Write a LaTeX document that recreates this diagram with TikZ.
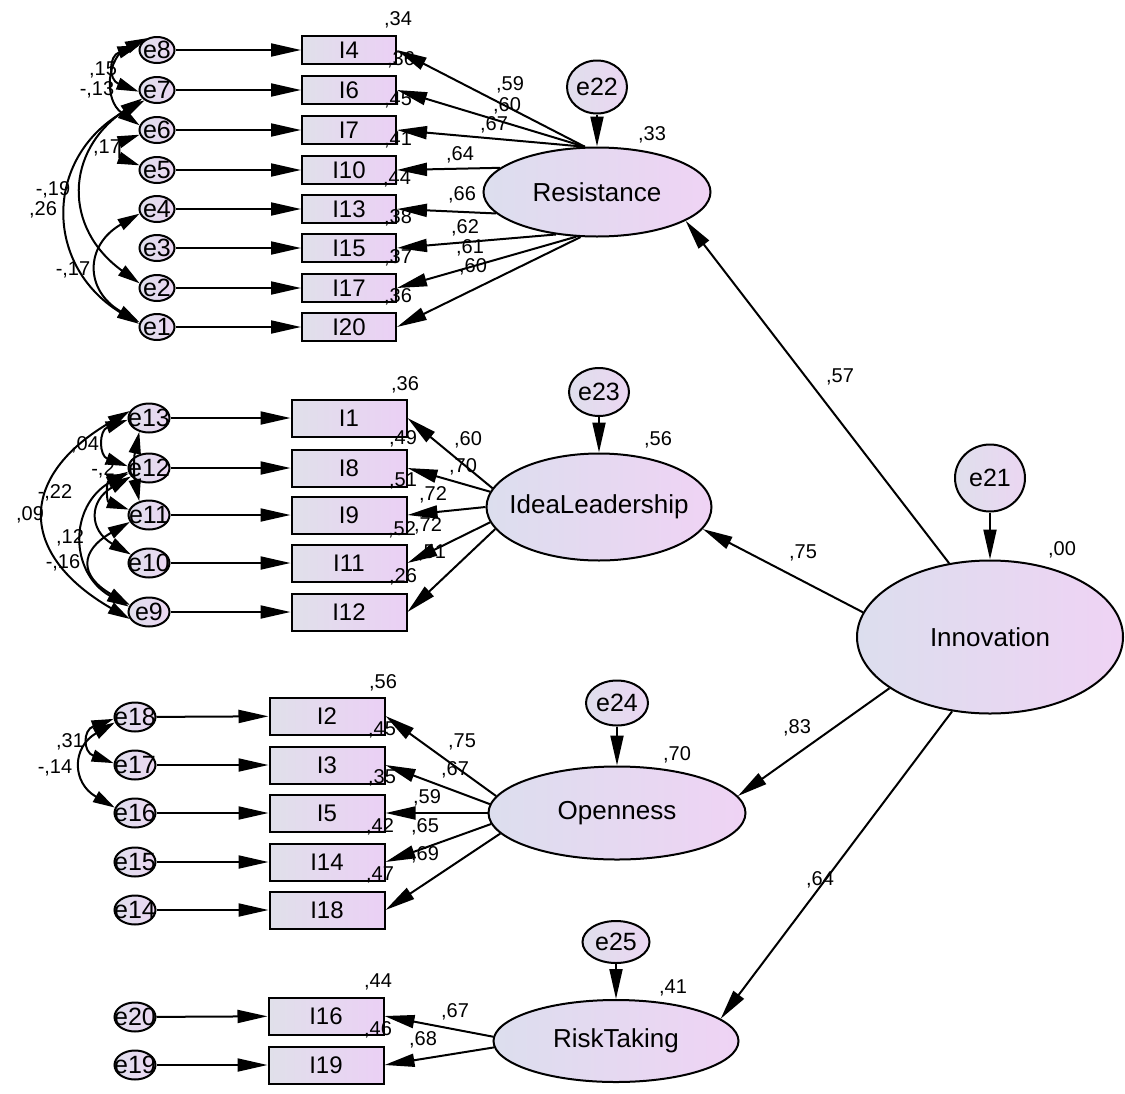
\documentclass[tikz,border=0pt]{standalone}
\usepackage{fontspec}
\setmainfont{Liberation Sans}
\usetikzlibrary{arrows.meta,shapes.geometric}

\definecolor{latL}{HTML}{DCDEEE}
\definecolor{latR}{HTML}{EFD3F4}
\definecolor{boxL}{HTML}{E0E0EA}
\definecolor{boxR}{HTML}{EBD0F5}
\definecolor{errL}{HTML}{DFDFEC}
\definecolor{errR}{HTML}{EBD6F2}

\begin{document}
\begin{tikzpicture}[x=1pt,y=-1pt,
	latent/.style={ellipse,draw,line width=2pt,left color=latL,right color=latR,inner xsep=-30pt,inner ysep=0pt,font=\fontsize{26}{26}\selectfont},
	indic/.style={rectangle,draw,line width=2pt,left color=boxL,right color=boxR,inner sep=1pt,font=\fontsize{24}{24}\selectfont},
	itemS/.style={indic,minimum width=94pt,minimum height=28pt},
	itemL/.style={indic,minimum width=115pt,minimum height=37pt},
	err/.style={ellipse,draw,line width=2pt,left color=errL,right color=errR,inner xsep=-10pt,inner ysep=-4pt,font=\fontsize{25}{25}\selectfont},
	errA/.style={err,minimum width=35pt,minimum height=26pt},
	errB/.style={err,minimum width=41pt,minimum height=29pt},
	regr/.style={-{Triangle[length=30pt,width=13pt]},line width=2pt},
	cov/.style={{Triangle[length=22pt,width=12pt]}-{Triangle[length=22pt,width=12pt]},line width=2pt},
	est/.style={font=\fontsize{20}{20}\selectfont,inner sep=0pt}]

	\useasboundingbox (0,0) rectangle (1125,1093);

	% latent variables
	\node[latent,minimum width=227pt,minimum height=89pt] (res) at (597,192) {Resistance};
	\node[latent,minimum width=225pt,minimum height=107pt] (idea) at (599,507) {IdeaLeadership};
	\node[latent,minimum width=257pt,minimum height=93pt] (open) at (617,813) {Openness};
	\node[latent,minimum width=245pt,minimum height=82pt] (risk) at (616,1041) {RiskTaking};
	\node[latent,minimum width=266pt,minimum height=153pt] (inno) at (990,637) {Innovation};

	% disturbances
	\node[err,minimum width=60pt,minimum height=53pt] (e22) at (597,87) {e22};
	\node[err,minimum width=60pt,minimum height=48pt] (e23) at (599,392) {e23};
	\node[err,minimum width=62pt,minimum height=45pt] (e24) at (617,703) {e24};
	\node[err,minimum width=67pt,minimum height=42pt] (e25) at (616,942) {e25};
	\node[err,minimum width=70pt,minimum height=67pt] (e21) at (990,478) {e21};

	% resistance items
	\node[itemS] (I4) at (349,50) {I4};
	\node[itemS] (I6) at (349,90) {I6};
	\node[itemS] (I7) at (349,130) {I7};
	\node[itemS] (I10) at (349,170) {I10};
	\node[itemS] (I13) at (349,209) {I13};
	\node[itemS] (I15) at (349,248) {I15};
	\node[itemS] (I17) at (349,288) {I17};
	\node[itemS] (I20) at (349,327) {I20};

	\node[errA] (e8) at (157,50) {e8};
	\node[errA] (e7) at (157,90) {e7};
	\node[errA] (e6) at (157,130) {e6};
	\node[errA] (e5) at (157,170) {e5};
	\node[errA] (e4) at (157,209) {e4};
	\node[errA] (e3) at (157,248) {e3};
	\node[errA] (e2) at (157,288) {e2};
	\node[errA] (e1) at (157,327) {e1};

	% idea leadership items
	\node[itemL] (I1) at (349,418) {I1};
	\node[itemL] (I8) at (349,468) {I8};
	\node[itemL] (I9) at (349,515) {I9};
	\node[itemL] (I11) at (349,563) {I11};
	\node[itemL] (I12) at (349,612) {I12};

	\node[errB] (e13) at (149,418) {e13};
	\node[errB] (e12) at (149,468) {e12};
	\node[errB] (e11) at (149,515) {e11};
	\node[errB] (e10) at (149,563) {e10};
	\node[errB] (e9) at (149,612) {e9};

	% openness items
	\node[itemL] (I2) at (327,716) {I2};
	\node[itemL] (I3) at (327,765) {I3};
	\node[itemL] (I5) at (327,813) {I5};
	\node[itemL] (I14) at (327,862) {I14};
	\node[itemL] (I18) at (327,910) {I18};

	\node[errB] (e18) at (135,717) {e18};
	\node[errB] (e17) at (135,765) {e17};
	\node[errB] (e16) at (135,813) {e16};
	\node[errB] (e15) at (135,862) {e15};
	\node[errB] (e14) at (135,910) {e14};

	% risk taking items
	\node[itemL] (I16) at (326,1016) {I16};
	\node[itemL] (I19) at (326,1065) {I19};

	\node[errB] (e20) at (135,1017) {e20};
	\node[errB] (e19) at (135,1065) {e19};

	% error paths
	\draw[regr] (e8) -- (I4);
	\draw[regr] (e7) -- (I6);
	\draw[regr] (e6) -- (I7);
	\draw[regr] (e5) -- (I10);
	\draw[regr] (e4) -- (I13);
	\draw[regr] (e3) -- (I15);
	\draw[regr] (e2) -- (I17);
	\draw[regr] (e1) -- (I20);
	\draw[regr] (e13) -- (I1);
	\draw[regr] (e12) -- (I8);
	\draw[regr] (e11) -- (I9);
	\draw[regr] (e10) -- (I11);
	\draw[regr] (e9) -- (I12);
	\draw[regr] (e18) -- (I2);
	\draw[regr] (e17) -- (I3);
	\draw[regr] (e16) -- (I5);
	\draw[regr] (e15) -- (I14);
	\draw[regr] (e14) -- (I18);
	\draw[regr] (e20) -- (I16);
	\draw[regr] (e19) -- (I19);

	\draw[regr] (e22) -- (res);
	\draw[regr] (e23) -- (idea);
	\draw[regr] (e24) -- (open);
	\draw[regr] (e25) -- (risk);
	\draw[regr] (e21) -- (inno);

	% loadings
	\draw[regr] (res.105) -- (I4.east);
	\draw[regr] (res.105) -- (I6.east);
	\draw[regr] (res.105) -- (I7.east);
	\draw[regr] (res.166) -- (I10.east);
	\draw[regr] (res.192) -- (I13.east);
	\draw[regr] (res.226) -- (I15.east);
	\draw[regr] (res.245) -- (I17.east);
	\draw[regr] (res.250) -- (I20.east);

	\draw[regr] (idea.170) -- (I1.east);
	\draw[regr] (idea.172) -- (I8.east);
	\draw[regr] (idea.180) -- (I9.east);
	\draw[regr] (idea.188) -- (I11.east);
	\draw[regr] (idea.192) -- (I12.east);

	\draw[regr] (open.172) -- (I2.east);
	\draw[regr] (open.176) -- (I3.east);
	\draw[regr] (open.180) -- (I5.east);
	\draw[regr] (open.185) -- (I14.east);
	\draw[regr] (open.190) -- (I18.east);

	\draw[regr] (risk.178) -- (I16.east);
	\draw[regr] (risk.183) -- (I19.east);

	% second order paths
	\draw[regr] (inno.119) -- (res.-18);
	\draw[regr] (inno.169) -- (idea.-12);
	\draw[regr] (inno.207) -- (open.8);
	\draw[regr] (inno.243) -- (risk.12);

	% covariances
	\draw[cov] (e8.165) to[bend right=70,looseness=1.8] (e7.185);
	\draw[cov] (e8.130) to[bend right=60,looseness=1.3] (e6.165);
	\draw[cov] (e6.195) to[bend right=70,looseness=1.8] (e5.165);
	\draw[cov] (e7.210) to[bend right=55,looseness=1.3] (e2.165);
	\draw[cov] (e7.220) to[bend right=60,looseness=1.3] (e1.170);
	\draw[cov] (e4.195) to[bend right=60,looseness=1.5] (e1.165);

	\draw[cov] (e13.160) to[bend right=60,looseness=1.6] (e9.200);
	\draw[cov] (e12.190) to[bend right=60,looseness=1.3] (e9.165);
	\draw[cov] (e13.185) to[bend right=70,looseness=1.7] (e12.175);
	\draw[cov] (e12.195) to[bend right=70,looseness=1.7] (e11.165);
	\draw[cov] (e13.235) to[bend right=12] (e11.125);
	\draw[cov] (e11.200) to[bend right=60,looseness=1.8] (e9.160);
	\draw[cov] (e12.205) to[bend right=60,looseness=1.6] (e10.155);

	\draw[cov] (e18.185) to[bend right=70,looseness=1.9] (e17.175);
	\draw[cov] (e18.195) to[bend right=60,looseness=1.5] (e16.165);

	% squared multiple correlations
	\node[est] (rI4) at (398,20) {,34};
	\node[est] (rI6) at (401,60) {,36};
	\node[est] (rI7) at (398,100) {,45};
	\node[est] (rI10) at (398,140) {,41};
	\node[est] (rI13) at (397,179) {,44};
	\node[est] (rI15) at (398,218) {,38};
	\node[est] (rI17) at (398,258) {,37};
	\node[est] (rI20) at (398,297) {,36};

	\node[est] (rI1) at (405,385) {,36};
	\node[est] (rI8) at (403,439) {,49};
	\node[est] (rI9) at (403,481) {,51};
	\node[est] (rI11) at (402,530) {,52};
	\node[est] (rI12) at (403,577) {,26};

	\node[est] (rI2) at (383,683) {,56};
	\node[est] (rI3) at (382,730) {,45};
	\node[est] (rI5) at (382,778) {,35};
	\node[est] (rI14) at (380,827) {,42};
	\node[est] (rI18) at (380,875) {,47};

	\node[est] (rI16) at (378,982) {,44};
	\node[est] (rI19) at (378,1030) {,46};

	\node[est] (rres) at (652,135) {,33};
	\node[est] (ridea) at (658,440) {,56};
	\node[est] (ropen) at (677,755) {,70};
	\node[est] (rrisk) at (673,988) {,41};
	\node[est] (rinno) at (1062,550) {,00};

	% loading estimates
	\node[est] (lI4) at (510,85) {,59};
	\node[est] (lI6) at (507,106) {,60};
	\node[est] (lI7) at (494,125) {,67};
	\node[est] (lI10) at (460,155) {,64};
	\node[est] (lI13) at (462,195) {,66};
	\node[est] (lI15) at (465,228) {,62};
	\node[est] (lI17) at (470,248) {,61};
	\node[est] (lI20) at (473,267) {,60};

	\node[est] (lI1) at (468,440) {,60};
	\node[est] (lI8) at (463,467) {,70};
	\node[est] (lI9) at (433,495) {,72};
	\node[est] (lI11) at (428,526) {,72};
	\node[est] (lI12) at (432,553) {,51};

	\node[est] (lI2) at (462,742) {,75};
	\node[est] (lI3) at (455,770) {,67};
	\node[est] (lI5) at (427,798) {,59};
	\node[est] (lI14) at (425,827) {,65};
	\node[est] (lI18) at (425,855) {,69};

	\node[est] (lI16) at (455,1012) {,67};
	\node[est] (lI19) at (423,1040) {,68};

	\node[est] (lres) at (840,377) {,57};
	\node[est] (lidea) at (803,553) {,75};
	\node[est] (lopen) at (797,728) {,83};
	\node[est] (lrisk) at (820,880) {,64};

	% covariance estimates
	\node[est] (c87) at (103,70) {,15};
	\node[est] (c86) at (97,90) {-,13};
	\node[est] (c65) at (107,148) {,17};
	\node[est] (c72) at (53,190) {-,19};
	\node[est] (c71) at (43,210) {,26};
	\node[est] (c41) at (73,270) {-,17};

	\node[est] (c1312) at (85,445) {,04};
	\node[est] (c1211) at (103,470) {-,2};
	\node[est] (c129) at (55,493) {-,22};
	\node[est] (c139) at (30,515) {,09};
	\node[est] (c119) at (70,538) {,12};
	\node[est] (c1210) at (63,563) {-,16};

	\node[est] (c1817) at (70,742) {,31};
	\node[est] (c1816) at (55,768) {-,14};

\end{tikzpicture}
\end{document}
